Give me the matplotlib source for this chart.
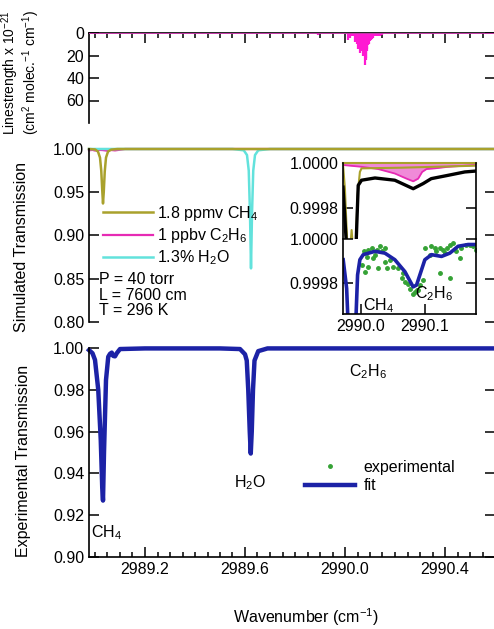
import matplotlib
matplotlib.use("Agg")            # no display needed
import matplotlib.pyplot as plt
from matplotlib.ticker import MultipleLocator, FixedLocator, FormatStrFormatter

plt.rcParams["font.family"] = ["Liberation Sans", "DejaVu Sans"]
plt.rcParams["mathtext.fontset"] = "custom"
plt.rcParams["mathtext.rm"] = "Liberation Sans"
plt.rcParams["mathtext.default"] = "regular"

# ── data ──────────────────────────────────────────────────────────────────────
# top panel: C2H6 line strengths (x 1e-21 cm^2 molec^-1 cm^-1)
line_pos = [2989.38, 2989.89, 2990.013, 2990.020, 2990.027, 2990.033, 2990.040,
            2990.047, 2990.050, 2990.053, 2990.057, 2990.060, 2990.064, 2990.067,
            2990.070, 2990.073, 2990.077, 2990.080, 2990.082, 2990.084, 2990.087,
            2990.089, 2990.093, 2990.096, 2990.100, 2990.103, 2990.108, 2990.113,
            2990.120, 2990.127, 2990.134, 2990.140, 2990.147, 2990.24]
line_str = [1.0, 2.0, 6, 4, 3, 3, 8,
            10, 9, 14, 12, 18, 13, 16,
            15, 20, 17, 28.5, 22, 24, 16,
            14, 11, 10, 7, 6, 5, 4,
            3, 3, 3, 3, 2, 1.0]

# middle panel: simulated transmission
sim_ch4_wn = [2988.976, 2989.000, 2989.012, 2989.020, 2989.025, 2989.029, 2989.032,
              2989.035, 2989.039, 2989.044, 2989.052, 2989.065, 2989.090, 2990.600]
sim_ch4 = [1.000, 0.9995, 0.997, 0.990, 0.975, 0.952, 0.937,
           0.950, 0.974, 0.990, 0.997, 0.9993, 1.000, 1.000]

sim_c2h6_wn = [2988.976, 2988.990, 2989.000, 2989.010, 2989.030, 2989.050, 2989.060,
               2989.080, 2989.100, 2989.120, 2990.600]
sim_c2h6 = [0.9985, 0.9990, 0.9982, 0.9990, 0.9988, 0.9980, 0.9990,
            0.9984, 0.9992, 1.000, 1.000]

sim_h2o_wn = [2988.976, 2989.550, 2989.595, 2989.608, 2989.615, 2989.620, 2989.624,
              2989.628, 2989.633, 2989.640, 2989.653, 2989.700, 2990.600]
sim_h2o = [1.000, 1.000, 0.9985, 0.993, 0.975, 0.925, 0.862,
           0.925, 0.975, 0.993, 0.9985, 1.000, 1.000]

# bottom panel: fit to the measured transmission
fit_wn = [2988.976, 2988.990, 2989.000, 2989.013, 2989.023, 2989.029, 2989.032,
          2989.036, 2989.044, 2989.053, 2989.060, 2989.067, 2989.073, 2989.080,
          2989.087, 2989.100, 2989.200, 2989.500, 2989.580, 2989.600, 2989.607,
          2989.613, 2989.619, 2989.623, 2989.627, 2989.632, 2989.638, 2989.653,
          2989.690, 2990.000, 2990.600]
fit_tr = [0.9990, 0.9975, 0.9943, 0.9800, 0.9560, 0.9330, 0.9270,
          0.9500, 0.9847, 0.9958, 0.9972, 0.9978, 0.9962, 0.9960,
          0.9975, 0.9995, 0.9998, 0.9998, 0.9995, 0.9970, 0.9940,
          0.9800, 0.9600, 0.9495, 0.9600, 0.9800, 0.9940, 0.9985,
          0.9998, 0.9998, 0.9998]

# inset, upper half: simulated components
ins_ch4_wn = [2989.972, 2989.975, 2989.977, 2989.9793, 2989.9828, 2989.9855, 2989.988,
              2989.9917, 2989.9948, 2989.9984, 2990.001, 2990.0635, 2990.18]
ins_ch4 = [0.999994, 0.999885, 0.99975, 0.99960, 0.99960, 0.99970, 0.99960,
           0.99960, 0.999855, 0.99996, 0.999976, 0.999979, 0.999988]

ins_c2h6_wn = [2989.972, 2990.001, 2990.027, 2990.053, 2990.0714, 2990.0818, 2990.0896,
               2990.0958, 2990.1026, 2990.1156, 2990.1365, 2990.18]
ins_c2h6 = [0.999991, 0.999983, 0.999973, 0.999953, 0.99993, 0.999918, 0.99993,
            0.99996, 0.999973, 0.999976, 0.999983, 0.999991]

ins_sum_wn = [2989.972, 2989.975, 2989.978, 2989.992, 2989.9958, 2990.001, 2990.022,
              2990.053, 2990.0818, 2990.0974, 2990.110, 2990.1365, 2990.1625, 2990.18]
ins_sum = [0.999892, 0.99975, 0.99960, 0.99960, 0.99990, 0.999923, 0.999933,
           0.999923, 0.999885, 0.999908, 0.99993, 0.999945, 0.99996, 0.999964]

# inset, lower half: measured points and fit
ins_fit_wn = [2989.9723, 2989.9777, 2989.9802, 2989.9917, 2989.9948, 2989.9984, 2990.0036,
              2990.0219, 2990.0375, 2990.0531, 2990.0688, 2990.0817, 2990.0870, 2990.0922,
              2990.1000, 2990.1105, 2990.1261, 2990.1391, 2990.1520, 2990.1677, 2990.1808]
ins_fit = [0.999906, 0.999776, 0.99960, 0.99960, 0.999837, 0.999906, 0.999929,
           0.999944, 0.999936, 0.999906, 0.999852, 0.999783, 0.999791, 0.999837,
           0.999906, 0.999929, 0.999921, 0.999936, 0.999967, 0.999975, 0.999975]

exp_wn = [2990.0021, 2990.0052, 2990.0063, 2990.0089, 2990.0115, 2990.0115, 2990.0167,
          2990.0193, 2990.0219, 2990.0245, 2990.0271, 2990.0297, 2990.0323, 2990.0375,
          2990.0375, 2990.0401, 2990.0453, 2990.0505, 2990.0583, 2990.0635, 2990.0661,
          2990.0688, 2990.0740, 2990.0766, 2990.0818, 2990.0844, 2990.0870, 2990.0896,
          2990.0922, 2990.0974, 2990.1000, 2990.1078, 2990.1104, 2990.1156, 2990.1182,
          2990.1234, 2990.1234, 2990.1286, 2990.1313, 2990.1339, 2990.1391, 2990.1391,
          2990.1443, 2990.1495, 2990.1547, 2990.1573, 2990.1651, 2990.1703, 2990.1755,
          2990.1807]
exp_tr = [0.999883, 0.999947, 0.999852, 0.999920, 0.999952, 0.999875, 0.999959,
          0.999913, 0.999929, 0.999952, 0.999867, 0.999967, 0.999944, 0.999959,
          0.999898, 0.999867, 0.999906, 0.999875, 0.999867, 0.999821, 0.999844,
          0.999806, 0.999798, 0.999775, 0.999752, 0.999760, 0.999768, 0.999768,
          0.999791, 0.999814, 0.999959, 0.999929, 0.999967, 0.999959, 0.999944,
          0.999959, 0.999844, 0.999952, 0.999936, 0.999959, 0.999975, 0.999821,
          0.999982, 0.999944, 0.999913, 0.999959, 0.999975, 0.999975, 0.999967,
          0.999952]

XMIN, XMAX = 2988.976, 2990.600
INS_XMIN, INS_XMAX = 2989.972, 2990.180

OLIVE = "#a9a12c"
MAGENTA = "#e62bb4"
CYAN = "#62e2dc"
BLUE = "#1c22a6"
GREEN = "#35a235"

FS = 11.5        # tick labels, legends, annotations
LFS = 11.5       # axis titles

W, H = 494, 629


def px_rect(left, top, right, bottom):
    """Axes box given in pixels of the 494x629 picture."""
    return [left / W, 1 - bottom / H, (right - left) / W, (bottom - top) / H]


def style(ax):
    for s in ax.spines.values():
        s.set_linewidth(1.2)
    ax.tick_params(which="both", direction="in", width=1.1, labelsize=FS,
                   left=True, right=True, top=False, bottom=False)
    ax.tick_params(which="major", length=7)
    ax.tick_params(which="minor", length=3.5)


fig = plt.figure(figsize=(W / 100, H / 100), dpi=100)

# ── top: line strengths ───────────────────────────────────────────────────────
ax1 = fig.add_axes(px_rect(89, 33, 495, 123))
style(ax1)
ax1.vlines(line_pos, 0, line_str, color="#ff19d2", lw=1.6)
ax1.axhline(0, color="#e040c0", lw=1.2, zorder=3)
ax1.set_xlim(XMIN, XMAX)
ax1.set_ylim(80, 0)
ax1.set_yticks([0, 20, 40, 60])
ax1.spines["bottom"].set_visible(False)
ax1.xaxis.set_major_locator(MultipleLocator(0.4))
ax1.xaxis.set_minor_locator(MultipleLocator(0.05))
ax1.tick_params(axis="x", which="both", top=True, labeltop=False, labelbottom=False)
# two-line y title, shrunk a little so it stays inside the picture
fig.text(10 / W, 1 - 73 / H, "Linestrength x 10$^{-21}$", rotation=90,
         ha="center", va="center", fontsize=10)
fig.text(31 / W, 1 - 72 / H, "(cm$^{2}$ molec.$^{-1}$ cm$^{-1}$)", rotation=90,
         ha="center", va="center", fontsize=10)

# ── middle: simulated transmission ────────────────────────────────────────────
ax2 = fig.add_axes(px_rect(89, 149, 495, 322))
style(ax2)
l_c2h6, = ax2.plot(sim_c2h6_wn, sim_c2h6, color=MAGENTA, lw=1.6, clip_on=False)
l_h2o, = ax2.plot(sim_h2o_wn, sim_h2o, color=CYAN, lw=1.8, clip_on=False)
l_ch4, = ax2.plot(sim_ch4_wn, sim_ch4, color=OLIVE, lw=1.8, clip_on=False)
ax2.set_xlim(XMIN, XMAX)
ax2.set_ylim(0.80, 1.00)
ax2.yaxis.set_major_locator(MultipleLocator(0.05))
ax2.yaxis.set_major_formatter(FormatStrFormatter("%.2f"))
ax2.spines["top"].set_visible(False)
ax2.spines["bottom"].set_visible(False)
ax2.set_xticks([])
ax2.legend([l_ch4, l_c2h6, l_h2o],
           ["1.8 ppmv CH$_4$", "1 ppbv C$_2$H$_6$", "1.3% H$_2$O"],
           loc="upper left", bbox_to_anchor=(103 / W, 1 - 204 / H),
           bbox_transform=fig.transFigure, frameon=False, fontsize=FS,
           borderpad=0, borderaxespad=0, handlelength=3.1, handletextpad=0.25,
           labelspacing=0.2)
fig.text(99 / W, 1 - 295 / H, "P = 40 torr\nL = 7600 cm\nT = 296 K",
         ha="left", va="center", fontsize=FS, linespacing=1.08)
fig.text(21 / W, 1 - 247 / H, "Simulated Transmission", rotation=90,
         ha="center", va="center", fontsize=LFS)

# ── bottom: experimental transmission ─────────────────────────────────────────
ax3 = fig.add_axes(px_rect(89, 348, 495, 557))
style(ax3)
ax3.tick_params(axis="x", which="both", bottom=True)
l_exp, = ax3.plot([], [], ls="none", marker="o", ms=2.5, color=GREEN)
l_fit, = ax3.plot(fit_wn, fit_tr, color=BLUE, lw=3.2, clip_on=False,
                  solid_joinstyle="round")
ax3.set_xlim(XMIN, XMAX)
ax3.set_ylim(0.90, 1.00)
ax3.yaxis.set_major_locator(MultipleLocator(0.02))
ax3.yaxis.set_major_formatter(FormatStrFormatter("%.2f"))
ax3.xaxis.set_major_locator(MultipleLocator(0.4))
ax3.xaxis.set_minor_locator(MultipleLocator(0.05))
ax3.xaxis.set_major_formatter(FormatStrFormatter("%.1f"))
ax3.spines["top"].set_visible(False)
ax3.legend([l_exp, l_fit], ["experimental", "fit"],
           loc="upper left", bbox_to_anchor=(305 / W, 1 - 460 / H),
           bbox_transform=fig.transFigure, frameon=False, fontsize=FS,
           borderpad=0, borderaxespad=0, handlelength=3.1, handletextpad=0.55,
           labelspacing=0.2, numpoints=1)
fig.text(368 / W, 1 - 372 / H, "C$_2$H$_6$", ha="center", va="center", fontsize=FS)
fig.text(250 / W, 1 - 483 / H, "H$_2$O", ha="center", va="center", fontsize=FS)
fig.text(91 / W, 1 - 533 / H, "CH$_4$", ha="left", va="center", fontsize=FS)
fig.text(24 / W, 1 - 461 / H, "Experimental Transmission", rotation=90,
         ha="center", va="center", fontsize=LFS)
fig.text(306 / W, 1 - 617 / H, "Wavenumber (cm$^{-1}$)",
         ha="center", va="center", fontsize=LFS)

# ── inset: zoom on the C2H6 feature ───────────────────────────────────────────
axi1 = fig.add_axes(px_rect(343, 163, 476, 239))
style(axi1)
axi1.fill_between(ins_c2h6_wn, ins_c2h6, 1.0, color="#f08ad8", lw=0)
axi1.plot(ins_c2h6_wn, ins_c2h6, color=MAGENTA, lw=1.3)
axi1.plot(ins_ch4_wn, ins_ch4, color=OLIVE, lw=1.5)
axi1.plot(ins_sum_wn, ins_sum, color="black", lw=2.4)
axi1.axhline(1.0, color=OLIVE, lw=1.5, clip_on=False)
axi1.set_xlim(INS_XMIN, INS_XMAX)
axi1.set_ylim(0.99966, 1.0)
axi1.yaxis.set_major_locator(FixedLocator([0.9998, 1.0]))
axi1.yaxis.set_major_formatter(FormatStrFormatter("%.4f"))
axi1.set_xticks([])
axi1.spines["top"].set_visible(False)
axi1.spines["bottom"].set_visible(False)

axi2 = fig.add_axes(px_rect(343, 239, 476, 314))
style(axi2)
axi2.tick_params(axis="x", which="both", bottom=True)
axi2.plot(exp_wn, exp_tr, ls="none", marker="o", ms=2.5, color=GREEN)
axi2.plot(ins_fit_wn, ins_fit, color=BLUE, lw=2.6, solid_joinstyle="round")
axi2.set_xlim(INS_XMIN, INS_XMAX)
axi2.set_ylim(0.99966, 1.0)
axi2.yaxis.set_major_locator(FixedLocator([0.9998, 1.0]))
axi2.yaxis.set_major_formatter(FormatStrFormatter("%.4f"))
axi2.xaxis.set_major_locator(FixedLocator([2990.0, 2990.1]))
axi2.xaxis.set_major_formatter(FormatStrFormatter("%.1f"))
axi2.spines["top"].set_visible(False)
axi2.text(2990.0025, 0.99970, "CH$_4$", ha="left", va="center", fontsize=FS)
axi2.text(2990.0845, 0.99975, "C$_2$H$_6$", ha="left", va="center", fontsize=FS)

fig.savefig("out.png", dpi=100)
